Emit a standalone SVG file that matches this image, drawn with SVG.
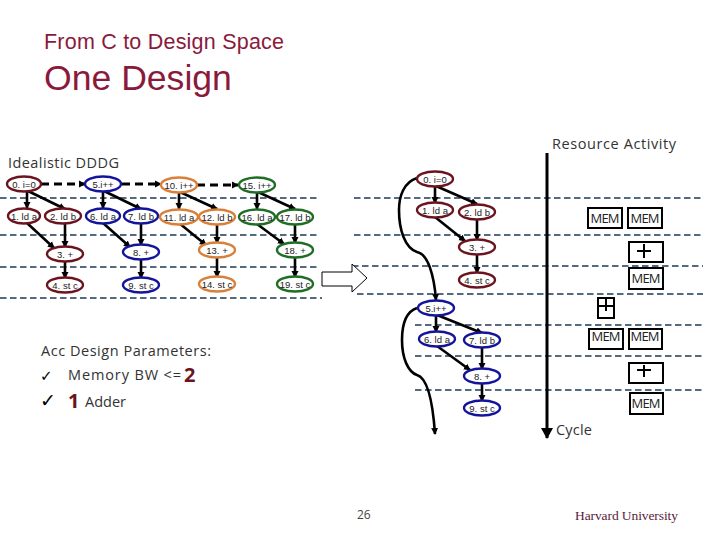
<svg xmlns="http://www.w3.org/2000/svg" width="720" height="540" viewBox="0 0 720 540">
<defs>
<marker id="a" markerUnits="userSpaceOnUse" markerWidth="8" markerHeight="8" refX="6" refY="4" orient="auto"><path d="M0,0.5 L7,4 L0,7.5 Z" fill="#000"/></marker>
<marker id="big" markerUnits="userSpaceOnUse" markerWidth="14" markerHeight="14" refX="10" refY="6" orient="auto"><path d="M0,0 L11,6 L0,12 Z" fill="#000"/></marker>
</defs>
<style>
text{font-family:"Open Sans","Liberation Sans",sans-serif}
.n ellipse{fill:#fff;stroke-width:2.4}
.n text{font-family:"Liberation Sans",sans-serif;font-size:9.5px;text-anchor:middle;fill:#222}
.m ellipse{stroke:#6b1420}.b ellipse{stroke:#14149a}.o ellipse{stroke:#d8803a}.g ellipse{stroke:#1f6e25}
.row{stroke:#1f3a55;stroke-width:1.6;stroke-dasharray:6.5 3.5;fill:none}
.e{stroke:#000;stroke-width:2.6;fill:none;marker-end:url(#a)}
.d{stroke:#000;stroke-width:3;fill:none;stroke-dasharray:8 5;marker-end:url(#a)}
.c{stroke:#000;stroke-width:2.6;fill:none;marker-end:url(#a)}
.r rect{fill:#fff;stroke:#000;stroke-width:2}
.r text{font-size:13px;text-anchor:middle;fill:#222}
.r path{stroke:#000;stroke-width:2;fill:none}
.h{font-size:14.5px;fill:#333}
.ser{font-family:"Liberation Serif",serif}
.big{font-size:20px;font-weight:bold;fill:#6b1420}
.title{font-family:"Liberation Sans",sans-serif;fill:#8a1a3c}
</style>
<text class="title" x="44" y="49" font-size="21.5" textLength="240">From C to Design Space</text>
<text class="title" x="44" y="90" font-size="35.6">One Design</text>
<text class="h" x="8" y="168" textLength="111">Idealistic DDDG</text>
<text class="h" x="552" y="149" textLength="124">Resource Activity</text>
<text class="h" x="556" y="435" textLength="36">Cycle</text>
<g id="guides">
<path class="row" d="M0,198H319M0,235H319M0,267H319M0,298H322"/>
<path class="row" d="M354,198H703M354,235H703M352,266H703M357,294H703M415,325H703M415,356H703M415,390H703"/>
</g>
<path id="bigArrow" d="M322,272H352V264L367,278L352,292V286H322Z" fill="#fff" stroke="#000" stroke-width="1"/>
<g id="connectors">
<path class="d" d="M41,184H85"/><path class="d" d="M122,184H161"/><path class="d" d="M197,185H238"/>
<path class="e" d="M27,192L27,208"/><path class="e" d="M28,191L65,209"/><path class="e" d="M27,223L54,248"/><path class="e" d="M65,224V247"/><path class="e" d="M65,261V278"/>
<path class="e" d="M103,192V208"/><path class="e" d="M104,191L141,209"/><path class="e" d="M103,223L130,247"/><path class="e" d="M141,224V245"/><path class="e" d="M141,259V278"/>
<path class="e" d="M179,192V209"/><path class="e" d="M180,192L217,209"/><path class="e" d="M179,223L206,245"/><path class="e" d="M217,224V243"/><path class="e" d="M217,257V277"/>
<path class="e" d="M257,192V209"/><path class="e" d="M258,192L295,209"/><path class="e" d="M257,224L284,244"/><path class="e" d="M295,224V243"/><path class="e" d="M295,257V277"/>
<path class="e" d="M435,186V203"/><path class="e" d="M436,186L477,204"/><path class="e" d="M435,217L465,241"/><path class="e" d="M477,219V240"/><path class="e" d="M477,254V273"/>
<path class="e" d="M436,315V332"/><path class="e" d="M437,315L482,333"/><path class="e" d="M437,346L470,370"/><path class="e" d="M482,347V369"/><path class="e" d="M482,383V401"/>
<path class="c" d="M417,178C404,182 399,196 399,210C399,230 405,248 417,252C428,254 434,275 436,300"/>
<path class="c" d="M417,308C405,312 402,325 402,340C402,358 408,372 417,375C428,378 433,405 435,434"/>
<path d="M547,153V438" stroke="#000" stroke-width="3" fill="none" marker-end="url(#big)"/>
</g>
<g id="n0" class="n m"><ellipse cx="24" cy="184" rx="17" ry="7.5"/><text x="24" y="188">0. i=0</text></g>
<g id="n1" class="n m"><ellipse cx="24" cy="216" rx="16" ry="7.5"/><text x="24" y="220">1. ld a</text></g>
<g id="n2" class="n m"><ellipse cx="63" cy="216" rx="18" ry="7.5"/><text x="63" y="220">2. ld b</text></g>
<g id="n3" class="n m"><ellipse cx="65" cy="254" rx="18" ry="7.5"/><text x="65" y="258">3. +</text></g>
<g id="n4" class="n m"><ellipse cx="65" cy="285" rx="18" ry="7.5"/><text x="65" y="289">4. st c</text></g>
<g id="n5" class="n b"><ellipse cx="103" cy="184" rx="18" ry="7.5"/><text x="103" y="188">5.i++</text></g>
<g id="n6" class="n b"><ellipse cx="103" cy="216" rx="17" ry="7.5"/><text x="103" y="220">6. ld a</text></g>
<g id="n7" class="n b"><ellipse cx="141" cy="216" rx="17" ry="7.5"/><text x="141" y="220">7. ld b</text></g>
<g id="n8" class="n b"><ellipse cx="141" cy="252" rx="18" ry="7.5"/><text x="141" y="256">8. +</text></g>
<g id="n9" class="n b"><ellipse cx="141" cy="285" rx="18" ry="7.5"/><text x="141" y="289">9. st c</text></g>
<g id="n10" class="n o"><ellipse cx="179" cy="185" rx="18" ry="7.5"/><text x="179" y="189">10. i++</text></g>
<g id="n11" class="n o"><ellipse cx="179" cy="217" rx="19" ry="7.5"/><text x="179" y="221">11. ld a</text></g>
<g id="n12" class="n o"><ellipse cx="217" cy="217" rx="18" ry="7.5"/><text x="217" y="221">12. ld b</text></g>
<g id="n13" class="n o"><ellipse cx="217" cy="250" rx="18" ry="7.5"/><text x="217" y="254">13. +</text></g>
<g id="n14" class="n o"><ellipse cx="217" cy="284" rx="18" ry="7.5"/><text x="217" y="288">14. st c</text></g>
<g id="n15" class="n g"><ellipse cx="257" cy="185" rx="18" ry="7.5"/><text x="257" y="189">15. i++</text></g>
<g id="n16" class="n g"><ellipse cx="257" cy="217" rx="18" ry="7.5"/><text x="257" y="221">16. ld a</text></g>
<g id="n17" class="n g"><ellipse cx="295" cy="217" rx="18" ry="7.5"/><text x="295" y="221">17. ld b</text></g>
<g id="n18" class="n g"><ellipse cx="295" cy="250" rx="18" ry="7.5"/><text x="295" y="254">18. +</text></g>
<g id="n19" class="n g"><ellipse cx="295" cy="284" rx="18" ry="7.5"/><text x="295" y="288">19. st c</text></g>
<g id="r0" class="n m"><ellipse cx="435" cy="179" rx="18" ry="7.5"/><text x="435" y="183">0. i=0</text></g>
<g id="r1" class="n m"><ellipse cx="435" cy="210" rx="18" ry="7.5"/><text x="435" y="214">1. ld a</text></g>
<g id="r2" class="n m"><ellipse cx="477" cy="212" rx="18" ry="7.5"/><text x="477" y="216">2. ld b</text></g>
<g id="r3" class="n m"><ellipse cx="477" cy="247" rx="18" ry="7.5"/><text x="477" y="251">3. +</text></g>
<g id="r4" class="n m"><ellipse cx="477" cy="280" rx="18" ry="7.5"/><text x="477" y="284">4. st c</text></g>
<g id="r5" class="n b"><ellipse cx="436" cy="308" rx="18" ry="7.5"/><text x="436" y="312">5.i++</text></g>
<g id="r6" class="n b"><ellipse cx="437" cy="339" rx="18" ry="7.5"/><text x="437" y="343">6. ld a</text></g>
<g id="r7" class="n b"><ellipse cx="482" cy="340" rx="18" ry="7.5"/><text x="482" y="344">7. ld b</text></g>
<g id="r8" class="n b"><ellipse cx="482" cy="376" rx="18" ry="7.5"/><text x="482" y="380">8. +</text></g>
<g id="r9" class="n b"><ellipse cx="482" cy="408" rx="18" ry="7.5"/><text x="482" y="412">9. st c</text></g>
<g id="res" class="r">
<g id="mem1"><rect x="588" y="208" width="34" height="20"/><text x="605" y="223" textLength="29">MEM</text></g>
<g id="mem2"><rect x="628" y="208" width="34" height="20"/><text x="645" y="223" textLength="29">MEM</text></g>
<g id="add1"><rect x="629" y="242" width="34" height="20"/><path d="M644,244V258M637,251H651"/></g>
<g id="mem3"><rect x="629" y="268" width="34" height="21"/><text x="646" y="283" textLength="29">MEM</text></g>
<g id="add2"><rect x="598" y="298" width="16" height="20"/><path d="M606,299V311M599,306H613"/></g>
<g id="mem4"><rect x="589" y="329" width="34" height="20"/><text x="606" y="341" textLength="29">MEM</text></g>
<g id="mem5"><rect x="629" y="329" width="33" height="20"/><text x="645" y="341" textLength="29">MEM</text></g>
<g id="add3"><rect x="629" y="363" width="34" height="20"/><path d="M644,365V377M637,370H651"/></g>
<g id="mem6"><rect x="630" y="393" width="33" height="21"/><text x="646" y="408" textLength="29">MEM</text></g>
</g>
<text x="41" y="356" font-size="14.5" fill="#333" textLength="170">Acc Design Parameters:</text>
<text x="40" y="381" font-size="15" fill="#000" style="font-family:'DejaVu Sans',sans-serif">✓</text>
<text x="68" y="380" font-size="14.5" fill="#333" textLength="113">Memory BW &lt;=</text>
<text class="big" x="184" y="382">2</text>
<text x="40" y="407" font-size="19" font-weight="bold" fill="#000" style="font-family:'DejaVu Sans',sans-serif">✓</text>
<text class="big" x="68" y="408">1</text>
<text x="85" y="407" font-size="14.5" fill="#333" textLength="41">Adder</text>
<text x="357" y="519" font-size="12" fill="#444">26</text>
<text class="ser" x="575" y="520" font-size="13.5" fill="#5a1a3a" textLength="103">Harvard University</text>
</svg>
